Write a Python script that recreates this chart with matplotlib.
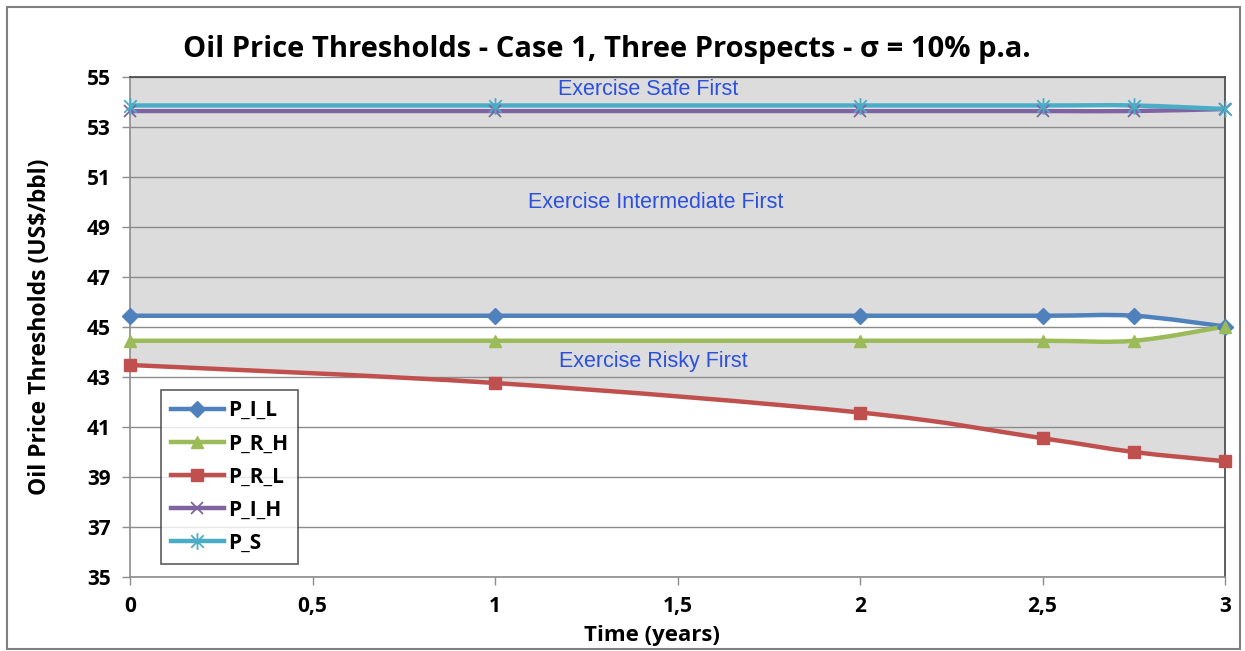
import numpy as np
import matplotlib
matplotlib.use("Agg")
import matplotlib.pyplot as plt
from matplotlib.path import Path
from matplotlib.patches import PathPatch, Rectangle
from matplotlib.lines import Line2D

# ---------------- data ----------------
time_years = [0, 1, 2, 2.5, 2.75, 3]
P_I_L = [45.45, 45.45, 45.45, 45.45, 45.45, 45.02]
P_R_H = [44.45, 44.45, 44.45, 44.45, 44.45, 45.02]
P_R_L = [43.48, 42.76, 41.58, 40.55, 40.00, 39.63]
P_I_H = [53.64, 53.64, 53.64, 53.64, 53.64, 53.72]
P_S = [53.86, 53.86, 53.86, 53.86, 53.86, 53.72]

series_names = ["P_I_L", "P_R_H", "P_R_L", "P_I_H", "P_S"]
series_values = [P_I_L, P_R_H, P_R_L, P_I_H, P_S]
colors = ["#4F81BD", "#9BBB59", "#C0504D", "#8064A2", "#4BACC6"]

x_ticks = [0, 0.5, 1, 1.5, 2, 2.5, 3]
x_tick_labels = ["0", "0,5", "1", "1,5", "2", "2,5", "3"]
y_ticks = [35, 37, 39, 41, 43, 45, 47, 49, 51, 53, 55]

title = "Oil Price Thresholds - Case 1, Three Prospects - σ = 10% p.a."
region_labels = ["Exercise Safe First", "Exercise Intermediate First", "Exercise Risky First"]
region_pos = [(1.42, 54.5), (1.44, 50.0), (1.435, 43.6)]

# ---------------- helpers ----------------
def smooth_segments(x, y):
    pts = np.column_stack([x, y]).astype(float)
    n = len(pts)
    segs = []
    for i in range(n - 1):
        p0 = pts[max(i - 1, 0)]
        p1 = pts[i]
        p2 = pts[i + 1]
        p3 = pts[min(i + 2, n - 1)]
        c1 = p1 + (p2 - p0) / 6.0
        c2 = p2 - (p3 - p1) / 6.0
        segs.append((p1, c1, c2, p2))
    return segs

def line_path(x, y):
    segs = smooth_segments(x, y)
    verts = [segs[0][0]]
    codes = [Path.MOVETO]
    for (p1, c1, c2, p2) in segs:
        verts += [c1, c2, p2]
        codes += [Path.CURVE4] * 3
    return Path(verts, codes)

def band_path(xu, yu, xl, yl):
    su = smooth_segments(xu, yu)
    sl = smooth_segments(xl, yl)
    verts = [su[0][0]]
    codes = [Path.MOVETO]
    for (p1, c1, c2, p2) in su:
        verts += [c1, c2, p2]
        codes += [Path.CURVE4] * 3
    verts.append(sl[-1][3])
    codes.append(Path.LINETO)
    for (p1, c1, c2, p2) in reversed(sl):
        verts += [c2, c1, p1]
        codes += [Path.CURVE4] * 3
    verts.append(su[0][0])
    codes.append(Path.CLOSEPOLY)
    return Path(verts, codes)

def top_band_path(x, y, top):
    s = smooth_segments(x, y)
    verts = [s[0][0]]
    codes = [Path.MOVETO]
    for (p1, c1, c2, p2) in s:
        verts += [c1, c2, p2]
        codes += [Path.CURVE4] * 3
    verts += [(x[-1], top), (x[0], top), s[0][0]]
    codes += [Path.LINETO, Path.LINETO, Path.CLOSEPOLY]
    return Path(verts, codes)

# asterisk marker: vertical + two diagonals
star_marker = Path(
    [(0, -1), (0, 1), (-0.75, -0.75), (0.75, 0.75), (-0.75, 0.75), (0.75, -0.75)],
    [Path.MOVETO, Path.LINETO, Path.MOVETO, Path.LINETO, Path.MOVETO, Path.LINETO],
)
markers = ["D", "^", "s", "x", star_marker]
msizes = [8, 9, 9, 9, 12]

# ---------------- figure ----------------
fig = plt.figure(figsize=(12.45, 6.51), dpi=100)
fig.patch.set_facecolor("white")
fig.patches.append(Rectangle((7 / 1245, 1 - 649 / 651), (1240 - 7) / 1245, (649 - 7) / 651,
                             transform=fig.transFigure, fill=False,
                             edgecolor="#7f7f7f", lw=1.5))

ax = fig.add_axes([130 / 1245, 1 - 577 / 651, 1095 / 1245, 500 / 651])
ax.set_facecolor("white")
ax.set_xlim(0, 3)
ax.set_ylim(35, 55)

grey = "#DCDCDC"
ax.add_patch(PathPatch(band_path(time_years, P_R_H, time_years, P_R_L),
                       facecolor=grey, edgecolor="none", zorder=0.2))
ax.add_patch(PathPatch(band_path(time_years, P_I_H, time_years, P_I_L),
                       facecolor=grey, edgecolor="none", zorder=0.2))
ax.add_patch(PathPatch(top_band_path(time_years, P_S, 55),
                       facecolor=grey, edgecolor="none", zorder=0.2))

ax.set_axisbelow(True)
ax.yaxis.grid(True, color="#8c8c8c", lw=1.0)

handles = []
for name, vals, col, mk, ms in zip(series_names, series_values, colors, markers, msizes):
    ax.add_patch(PathPatch(line_path(time_years, vals), facecolor="none",
                           edgecolor=col, lw=3.2, zorder=2, clip_on=False))
    mkw = dict(marker=mk, markersize=ms, color=col, markerfacecolor=col,
               markeredgecolor=col)
    if mk == "x" or mk is star_marker:
        mkw["markeredgewidth"] = 1.3
    ax.plot(time_years, vals, linestyle="none", zorder=3, clip_on=False, **mkw)
    handles.append(Line2D([], [], lw=3.2, label=name, **mkw))

for txt, (px, py) in zip(region_labels, region_pos):
    ax.text(px, py, txt, ha="center", va="center", color="#2b50e0",
            fontsize=15.5, family="Liberation Sans", zorder=4)

ax.set_xticks(x_ticks)
ax.set_xticklabels(x_tick_labels)
ax.set_yticks(y_ticks)
for lab in ax.get_xticklabels() + ax.get_yticklabels():
    lab.set_fontweight("bold")
    lab.set_fontsize(15)
    lab.set_family("Open Sans")
ax.tick_params(axis="both", direction="out", length=6, width=1, color="#8c8c8c", pad=8)

for side in ["left", "bottom"]:
    ax.spines[side].set_color("#8c8c8c")
    ax.spines[side].set_linewidth(1.2)
for side in ["top", "right"]:
    ax.spines[side].set_color("#505050")
    ax.spines[side].set_linewidth(1.3)

leg = ax.legend(handles=handles, loc="lower left",
                bbox_to_anchor=(31 / 1095, 13 / 500), frameon=True, fancybox=False,
                edgecolor="#333333", handlelength=2.5, handletextpad=0.2,
                labelspacing=0.58, borderpad=0.5, borderaxespad=0,
                prop={"family": "Open Sans", "weight": "bold", "size": 15})
leg.get_frame().set_linewidth(1.2)
leg.set_zorder(5)

fig.text(607 / 1245, 1 - 49 / 651, title, ha="center", va="center",
         fontsize=21, fontweight="bold", family="Open Sans")
fig.text(40 / 1245, 1 - 327 / 651, "Oil Price Thresholds (US$/bbl)", rotation=90,
         ha="center", va="center", fontsize=16.5, fontweight="bold", family="Open Sans")
fig.text(652 / 1245, 1 - 635 / 651, "Time (years)", ha="center", va="center",
         fontsize=16, fontweight="bold", family="Open Sans")

fig.savefig("out.png", dpi=100, facecolor="white")
